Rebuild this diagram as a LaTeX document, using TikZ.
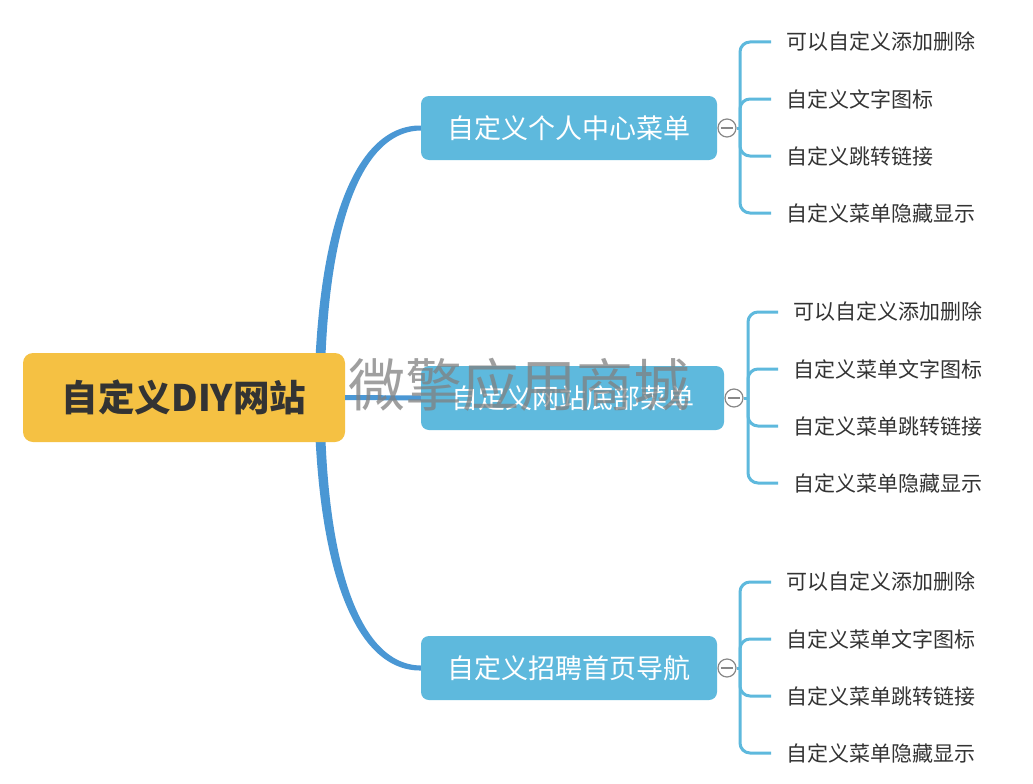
\documentclass[tikz,border=0pt]{standalone}
\usepackage{fontspec}
\newfontfamily\cjk{Noto Sans CJK SC}
\definecolor{rootc}{HTML}{F5C143}
\definecolor{boxc}{HTML}{5EB9DD}
\definecolor{mainc}{HTML}{4A97D4}
\definecolor{txtc}{HTML}{333333}
\definecolor{circc}{HTML}{888888}
\tikzset{
  rootbox/.style={fill=rootc, rounded corners=10, minimum width=322, minimum height=89, inner sep=0, text=txtc, font=\cjk\bfseries\fontsize{36.5}{40}\selectfont},
  branchbox/.style={fill=boxc, rounded corners=8, minimum height=64, inner sep=0, text=white, font=\cjk\fontsize{27}{30}\selectfont},
  leaf/.style={anchor=west, inner xsep=15, inner ysep=0, text=txtc, font=\cjk\fontsize{21}{24}\selectfont},
  mainline/.style={draw=mainc, line width=5},
  leafline/.style={draw=boxc, line width=3, rounded corners=10},
  toggle/.style={circle, draw=circc, fill=white, line width=1.2, minimum size=18, inner sep=0},
  declare function={
    bx(\t)=(1-\t)^3*320+3*(1-\t)^2*\t*325+3*(1-\t)*\t^2*360+\t^3*421;
    by(\t)=(1-\t)^3*370+3*(1-\t)^2*\t*220+3*(1-\t)*\t^2*128+\t^3*128;
    dx(\t)=0.15*(1-\t)^2+2.1*(1-\t)*\t+1.83*\t^2;
    dy(\t)=-4.5*(1-\t)^2-5.52*(1-\t)*\t;
    hw(\t)=5-2.5*\t;
    nl(\t)=veclen(dx(\t),dy(\t));
  },
}
\newcommand{\taperbranch}{%
  \fill[mainc] plot[variable=\t,domain=0:1,samples=60,smooth]
    ({bx(\t)-hw(\t)*dy(\t)/nl(\t)},{by(\t)+hw(\t)*dx(\t)/nl(\t)})
    -- plot[variable=\t,domain=1:0,samples=60,smooth]
    ({bx(\t)+hw(\t)*dy(\t)/nl(\t)},{by(\t)-hw(\t)*dx(\t)/nl(\t)}) -- cycle;}
\begin{document}
\begin{tikzpicture}[x=1pt,y=-1pt]
\useasboundingbox[fill=white] (0,0) rectangle (1033,784);
% tapered main connectors (behind boxes)
\taperbranch
\begin{scope}[shift={(0,796)},yscale=-1]
\taperbranch
\end{scope}
\node[branchbox, minimum width=296] (b1) at (569,128) {自定义个人中心菜单};
\node[branchbox, minimum width=303] (b2) at (572.5,398) {自定义网站底部菜单};
\node[branchbox, minimum width=296] (b3) at (569,668) {自定义招聘首页导航};
\node[rootbox] (root) at (184,397.5) {自定义DIY网站};
\draw[mainline] (root.east) -- (b2.west);
% toggles
\node[toggle] (c1) at (727,128) {};
\node[toggle] (c2) at (734,398) {};
\node[toggle] (c3) at (727,668) {};
\foreach \c in {c1,c2,c3}{
  \draw[circc, line width=1.2] ([xshift=-6]\c.center) -- ([xshift=6]\c.center);
}
% leaves group 1
\node[leaf] (l11) at (771,42) {可以自定义添加删除};
\node[leaf] (l12) at (771,99) {自定义文字图标};
\node[leaf] (l13) at (771,156) {自定义跳转链接};
\node[leaf] (l14) at (771,213) {自定义菜单隐藏显示};
% leaves group 2
\node[leaf] (l21) at (778,312) {可以自定义添加删除};
\node[leaf] (l22) at (778,369) {自定义菜单文字图标};
\node[leaf] (l23) at (778,426) {自定义菜单跳转链接};
\node[leaf] (l24) at (778,483) {自定义菜单隐藏显示};
% leaves group 3
\node[leaf] (l31) at (771,582) {可以自定义添加删除};
\node[leaf] (l32) at (771,639) {自定义菜单文字图标};
\node[leaf] (l33) at (771,696) {自定义菜单跳转链接};
\node[leaf] (l34) at (771,753) {自定义菜单隐藏显示};
% brackets
\coordinate (k1) at (740,128);
\coordinate (k2) at (748,398);
\coordinate (k3) at (740,668);
\draw[boxc, line width=3] (c1.east) -- (k1);
\draw[boxc, line width=3] (c2.east) -- (k2);
\draw[boxc, line width=3] (c3.east) -- (k3);
\foreach \k/\g in {k1/1,k2/2,k3/3}{
  \foreach \i in {1,2,3,4}{
    \draw[leafline] (\k) |- (l\g\i.west);
  }
}
% watermark
\node[text=gray, opacity=0.75, font=\cjk\fontsize{57}{60}\selectfont, inner sep=0] (wm) at (519,385) {微擎应用商城};
\end{tikzpicture}
\end{document}
